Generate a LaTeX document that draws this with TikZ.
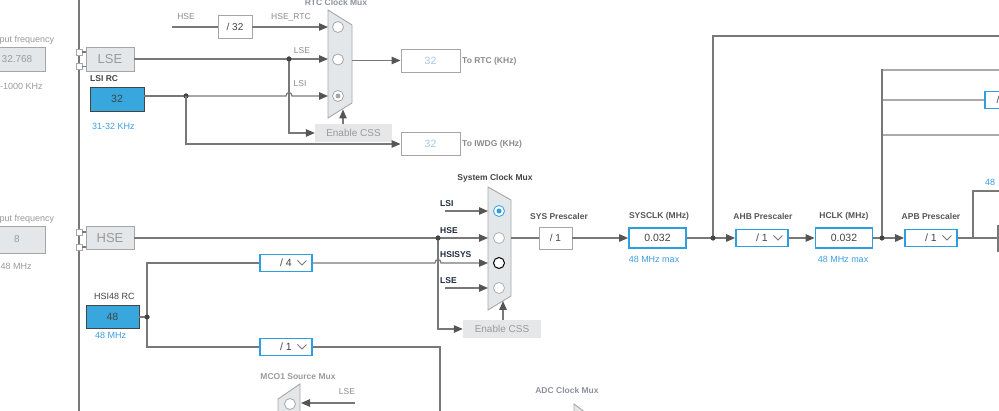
\documentclass[tikz,border=0pt]{standalone}
\usepackage{fontspec}
\setmainfont{Liberation Sans}
\usetikzlibrary{arrows.meta}
\definecolor{wirec}{HTML}{787878}
\definecolor{arrc}{HTML}{555555}
\definecolor{lwirec}{HTML}{AAAAAA}
\definecolor{gborder}{HTML}{A6A6A6}
\definecolor{gfill}{HTML}{E4E7EA}
\definecolor{cssfill}{HTML}{E6E7E8}
\definecolor{bblue}{HTML}{2D9FE0}
\definecolor{bfill}{HTML}{37A7DD}
\definecolor{btxtc}{HTML}{3B9DE0}
\definecolor{darkc}{HTML}{444444}
\definecolor{hdrc}{HTML}{555555}
\definecolor{smlc}{HTML}{8A8A8A}
\definecolor{lgtxt}{HTML}{9A9A9A}
\definecolor{selc}{HTML}{1E2A3C}
\definecolor{dotc}{HTML}{444444}
\definecolor{outtxt}{HTML}{A8C8E8}
\definecolor{muxc}{HTML}{8C929C}
\definecolor{lcirc}{HTML}{B0B0B0}
\newcommand\myfs[1]{\fontsize{#1}{#1}\selectfont}
\begin{document}
\begin{tikzpicture}[x=1pt,y=-1pt,
  wire/.style={draw=wirec, line width=1.2pt},
  lwire/.style={draw=lwirec, line width=1.2pt},
  arr/.style={draw=wirec, line width=1.2pt, -{Triangle[length=9pt,width=7.5pt,color=arrc]}},
  gbox/.style={draw=gborder, fill=gfill, line width=0.9pt, inner sep=0pt},
  wbox/.style={draw=gborder, fill=white, line width=0.9pt, inner sep=0pt},
  cssbox/.style={fill=cssfill, inner sep=0pt, font=\myfs{10}, text=lgtxt},
  bbox/.style={draw=bblue, fill=white, line width=1.8pt, inner sep=0pt, font=\myfs{10.5}, text=darkc},
  lsbox/.style={draw=darkc, fill=bfill, line width=0.9pt, inner sep=0pt, font=\myfs{10.5}, text=darkc},
  hdr/.style={font=\myfs{8.5}\bfseries, text=hdrc, inner sep=0pt},
  sml/.style={font=\myfs{8.5}, text=smlc, inner sep=0pt},
  btxt/.style={font=\myfs{9}, text=btxtc, inner sep=0pt},
  seltxt/.style={font=\myfs{8.5}\bfseries, text=selc, inner sep=0pt},
  ltxt/.style={font=\myfs{9}, text=lgtxt, inner sep=0pt},
  dot/.style={circle, fill=dotc, inner sep=0pt, minimum size=5pt},
  sq/.style={draw=gborder, fill=white, line width=0.9pt, minimum size=6pt, inner sep=0pt},
  circ/.style={circle, draw=gborder, fill=white, line width=0.8pt, minimum size=11pt, inner sep=0pt},
  mux/.style={fill=gfill, draw=gborder, line width=0.9pt},
  chev/.style={draw=wirec, line width=0.9pt}]
\useasboundingbox (0,0) rectangle (999,411);
\clip (0,0) rectangle (999,411);

% ---------- left vertical rail ----------
\coordinate (railt) at (79,-2);
\coordinate (railb) at (79,413);
\draw[wire] (railt) -- (railb);

% ---------- input frequency boxes ----------
\node[ltxt, anchor=west] at (-0.5,40) {put frequency};
\node[gbox, minimum width=56pt, minimum height=24pt, font=\myfs{10}, text=lgtxt] (inlse) at (17,59) {32.768};
\node[ltxt, anchor=west] at (0,86) {-1000 KHz};
\node[ltxt, anchor=west] at (-0.5,219) {put frequency};
\node[gbox, minimum width=56pt, minimum height=27pt, font=\myfs{10}, text=lgtxt] (inhse) at (17,239.5) {8};
\node[ltxt, anchor=west] at (0.5,266) {48 MHz};

% ---------- LSE / HSE boxes ----------
\node[gbox, minimum width=48pt, minimum height=24pt, font=\myfs{13}, text=lgtxt] (lse) at (110,59) {LSE};
\node[gbox, minimum width=48pt, minimum height=23pt, font=\myfs{13}, text=lgtxt] (hse) at (110,238) {HSE};
\node[sq] (sq1) at (79,52) {};
\node[sq] (sq2) at (79,66.5) {};
\node[sq] (sq3) at (79,232) {};
\node[sq] (sq4) at (79,247) {};
\draw[wire] (sq1.east) -- (sq1.east -| lse.west);
\draw[wire] (sq2.east) -- (sq2.east -| lse.west);
\draw[wire] (sq3.east) -- (sq3.east -| hse.west);
\draw[wire] (sq4.east) -- (sq4.east -| hse.west);

% ---------- LSI RC ----------
\node[hdr, anchor=west, text=darkc] at (90,79) {LSI RC};
\node[lsbox, minimum width=54pt, minimum height=24pt] (lsi) at (117,99) {32};
\node[btxt, anchor=west] at (92,126) {31-32 KHz};

% ---------- RTC mux ----------
\node[hdr, text=muxc] at (336,2) {RTC Clock Mux};
\draw[mux] (328,10) -- (352,25) -- (352,103) -- (328,118) -- cycle;
\coordinate (rtcin1) at (328,27);
\coordinate (rtcin2) at (328,59);
\coordinate (rtcin3) at (328,96);
\coordinate (rtcout) at (352,60.5);
\coordinate (rtcbot) at (343,109.5);
\node[circ] (rc1) at (338,27) {};
\node[circ] (rc2) at (338,59.5) {};
\node[circ] (rc3) at (338,96) {};
\node[circle, fill=gborder, inner sep=0pt, minimum size=5pt] at (rc3) {};

\node[sml] at (186,17) {HSE};
\coordinate (hsein) at (172,27);
\node[wbox, minimum width=34pt, minimum height=23pt, font=\myfs{10}, text=darkc] (d32) at (235,27) {/ 32};
\draw[wire] (hsein) -- (d32.west);
\draw[arr] (d32.east) -- (rtcin1);
\node[sml] at (291,17) {HSE\_RTC};

\node[dot] (dlse) at (289,59) {};
\node[dot] (dlsi) at (186,96) {};
\node[cssbox, minimum width=77pt, minimum height=18pt] (cssr) at (353.5,133) {Enable CSS};
\draw[wire] (lse.east) -- (dlse.center);
\draw[arr] (dlse.center) -- (rtcin2);
\draw[arr] (dlse.center) -- (289,133) -- (cssr.west);
\draw[wire] (lsi.east |- dlsi) -- (dlsi.center);
\draw[arr] (dlsi.center) -- (286,96) .. controls (286,91.5) and (292,91.5) .. (292,96) -- (rtcin3);
\node[sml] at (302,51) {LSE};
\node[sml] at (300,84) {LSI};
\node[dot] at (dlse) {};
\node[dot] at (dlsi) {};
\draw[arr] (cssr.north -| rtcbot) -- (rtcbot);

\node[wbox, minimum width=59pt, minimum height=23pt, font=\myfs{10.5}, text=outtxt] (tortc) at (430.5,60.5) {32};
\node[wbox, minimum width=59pt, minimum height=23pt, font=\myfs{10.5}, text=outtxt] (toiwdg) at (430.5,144) {32};
\draw[arr] (rtcout) -- (tortc.west);
\draw[arr] (dlsi.center) -- (186,144) -- (toiwdg.west);
\node[hdr, anchor=west, text=smlc] at (462,61) {To RTC (KHz)};
\node[hdr, anchor=west, text=smlc] at (462,144) {To IWDG (KHz)};

% ---------- HSI48 RC ----------
\node[font=\myfs{9}, text=darkc, inner sep=0pt, anchor=west] at (94,296) {HSI48 RC};
\node[lsbox, minimum width=53pt, minimum height=23pt] (hsi) at (112.5,317) {48};
\node[btxt, anchor=west] at (95,335) {48 MHz};
\node[dot] (dhsi) at (147,317) {};
\node[bbox, minimum width=52pt, minimum height=17pt] (div4) at (286,263) {/ 4\hspace{15pt}};
\node[bbox, minimum width=52pt, minimum height=17pt] (div1) at (286,347) {/ 1\hspace{15pt}};
\draw[chev] (div4.east) ++(-15.5,-2.5) -- ++(4.5,4.5) -- ++(4.5,-4.5);
\draw[chev] (div1.east) ++(-15.5,-2.5) -- ++(4.5,4.5) -- ++(4.5,-4.5);
\draw[wire] (hsi.east) -- (dhsi.center);
\draw[wire] (dhsi.center) -- (147,263) -- (div4.west);
\draw[wire] (dhsi.center) -- (147,347) -- (div1.west);
\coordinate (hsibot) at (440,413);
\draw[wire] (div1.east) -- (440,347) -- (hsibot);
\node[dot] at (dhsi) {};

% ---------- System clock mux ----------
\node[hdr, text=darkc] at (495,178) {System Clock Mux};
\draw[mux] (488,187) -- (511,200) -- (511,296) -- (488,310) -- cycle;
\coordinate (sysin1) at (488,211);
\coordinate (sysin2) at (488,238);
\coordinate (sysin3) at (488,263);
\coordinate (sysin4) at (488,288);
\coordinate (sysout) at (511,238);
\coordinate (sysbot) at (503,301);
\node[circ, draw=bblue] (sc1) at (499,211) {};
\node[circle, fill=bblue, inner sep=0pt, minimum size=5pt] at (sc1) {};
\node[circ, draw=lcirc] (sc2) at (499,238) {};
\node[circ, draw=black, line width=1pt] (sc3) at (499,263) {};
\node[circ, draw=lcirc] (sc4) at (499,288) {};

\node[seltxt, anchor=west] at (440,204) {LSI};
\node[seltxt, anchor=west] at (440,231) {HSE};
\node[seltxt, anchor=west] at (440,255) {HSISYS};
\node[seltxt, anchor=west] at (440,281) {LSE};
\coordinate (lsis) at (445,211);
\coordinate (lses) at (445,288);
\draw[arr] (lsis) -- (sysin1);
\draw[arr] (lses) -- (sysin4);

\node[dot] (dhse) at (438,238) {};
\node[cssbox, minimum width=78pt, minimum height=18pt] (csss) at (502,329) {Enable CSS};
\draw[arr] (hse.east) -- (sysin2);
\draw[arr] (dhse.center) -- (438,329) -- (csss.west);
\draw[arr] (div4.east) -- (435,263) .. controls (435,258.5) and (441,258.5) .. (441,263) -- (sysin3);
\node[dot] at (dhse) {};
\draw[arr] (csss.north -| sysbot) -- (sysbot);

% ---------- prescaler chain ----------
\node[wbox, minimum width=33pt, minimum height=22pt, font=\myfs{10}, text=darkc] (syspre) at (555.5,238) {/ 1};
\node[hdr] at (559,216) {SYS Prescaler};
\draw[wire] (sysout) -- (syspre.west);
\node[bbox, minimum width=57pt, minimum height=20pt] (sysclk) at (657.5,238) {0.032};
\draw[arr] (syspre.east) -- (sysclk.west);
\node[hdr] at (659,216) {SYSCLK (MHz)};
\node[btxt] at (654,259) {48 MHz max};

\node[dot] (dahb) at (713,238) {};
\node[bbox, minimum width=52pt, minimum height=17pt] (ahb) at (762,238) {/ 1\hspace{15pt}};
\draw[chev] (ahb.east) ++(-15.5,-2.5) -- ++(4.5,4.5) -- ++(4.5,-4.5);
\node[hdr] at (763,216) {AHB Prescaler};
\draw[wire] (sysclk.east) -- (dahb.center);
\draw[arr] (dahb.center) -- (ahb.west);

\node[bbox, minimum width=57pt, minimum height=20pt] (hclk) at (844,238) {0.032};
\draw[arr] (ahb.east) -- (hclk.west);
\node[hdr] at (844,216) {HCLK (MHz)};
\node[btxt] at (843,259) {48 MHz max};

\node[dot] (dapb) at (882,238) {};
\node[bbox, minimum width=52pt, minimum height=17pt] (apb) at (931,238) {/ 1\hspace{15pt}};
\draw[chev] (apb.east) ++(-15.5,-2.5) -- ++(4.5,4.5) -- ++(4.5,-4.5);
\node[hdr] at (931,216) {APB Prescaler};
\draw[wire] (hclk.east) -- (dapb.center);
\draw[arr] (dapb.center) -- (apb.west);

\coordinate (re1) at (1001,238);
\coordinate (re2) at (1001,191);
\coordinate (apbbr) at (973,238);
\draw[wire] (apb.east) -- (re1);
\draw[wire] (apbbr) -- (973,191) -- (re2);
\coordinate (rb1) at (998,225);
\coordinate (rb2) at (998,252);
\draw[wire] (rb1) -- (rb2);
\node[btxt, anchor=west] at (985,182) {48};

% ---------- upper branches ----------
\coordinate (rt1) at (1001,36);
\coordinate (rt2) at (1001,70);
\coordinate (rt4) at (1001,135);
\node[bbox, minimum width=22pt, minimum height=17pt, anchor=west, font=\myfs{10}] (rbox) at (984,100) {\hspace{4pt}/\hspace{10pt}};
\draw[wire] (dahb.center) -- (713,36) -- (rt1);
\draw[lwire] (882,70) -- (rt2);
\draw[lwire] (882,100) -- (rbox.west);
\draw[lwire] (882,135) -- (rt4);
\draw[wire] (dapb.center) -- (882,69.4);
\node[dot] at (dahb) {};
\node[dot] at (dapb) {};

% ---------- MCO1 / ADC ----------
\node[hdr, text=lgtxt] at (298,377) {MCO1 Source Mux};
\draw[mux] (278,399) -- (300,384) -- (300,416) -- (278,416) -- cycle;
\node[circ] (mc1) at (290,404) {};
\coordinate (mcolse) at (355,403);
\coordinate (mcoin) at (301,403);
\draw[arr] (mcolse) -- (mcoin);
\node[sml] at (347,392) {LSE};
\node[hdr, text=muxc] at (567,390) {ADC Clock Mux};
\draw[mux] (574,404) -- (586,413) -- (574,413) -- cycle;
\end{tikzpicture}
\end{document}
